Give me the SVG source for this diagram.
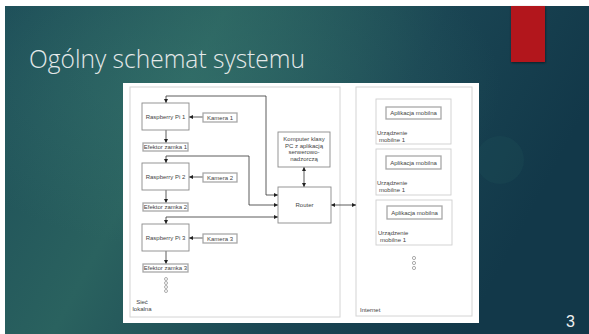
<svg xmlns="http://www.w3.org/2000/svg" width="589" height="334" viewBox="0 0 589 334">
<defs>
<linearGradient id="bg" x1="0" y1="0" x2="1" y2="0.3">
<stop offset="0" stop-color="#1d4d58"/>
<stop offset="0.35" stop-color="#2a625f"/>
<stop offset="0.7" stop-color="#1a4553"/>
<stop offset="1" stop-color="#123849"/>
</linearGradient>
<radialGradient id="hl" cx="0.35" cy="0.25" r="0.5">
<stop offset="0" stop-color="#3a7a72" stop-opacity="0.45"/>
<stop offset="1" stop-color="#3a7a72" stop-opacity="0"/>
</radialGradient>
<marker id="ah" viewBox="0 0 6 6" refX="6" refY="3" markerWidth="4" markerHeight="4" markerUnits="userSpaceOnUse" orient="auto-start-reverse">
<path d="M0,0 L6,3 L0,6 z" fill="#222"/>
</marker>
<filter id="sh" x="-20%" y="-20%" width="150%" height="150%">
<feDropShadow dx="0.5" dy="1" stdDeviation="1" flood-color="#000" flood-opacity="0.5"/>
</filter>
</defs>
<style>
.box{fill:#fff;stroke:#8a8a8a;stroke-width:0.9}
.sbox{fill:#fff;stroke:#a8a8a8;stroke-width:1.3}
.cont{fill:#fff;stroke:#d4d4d4;stroke-width:1}
.dev{fill:#fff;stroke:#cfcfcf;stroke-width:0.9}
.t{font-family:"Liberation Sans",Arial,sans-serif;font-size:6px;fill:#444;text-anchor:middle}
.tl{font-family:"Liberation Sans",Arial,sans-serif;font-size:6px;fill:#444}
.c{fill:none;stroke:#333;stroke-width:0.8}
.dot{fill:none;stroke:#777;stroke-width:0.6}
</style>
<rect x="0" y="0" width="589" height="334" fill="#fff"/>
<rect x="5" y="6" width="584" height="328" fill="url(#bg)"/>
<rect x="5" y="6" width="584" height="328" fill="url(#hl)"/>
<circle cx="500" cy="160" r="24" fill="#2a6464" opacity="0.15"/>
<rect x="511" y="6" width="34" height="56" fill="#b2171a" filter="url(#sh)"/>
<text x="29" y="68" font-family="'Open Sans','Liberation Sans',sans-serif" font-weight="300" font-size="26" fill="#e4e9e9" textLength="276" lengthAdjust="spacingAndGlyphs">Ogólny schemat systemu</text>
<text x="566" y="327" font-family="'Liberation Sans',Arial,sans-serif" font-size="16" fill="#f0f0f0">3</text>
<rect x="123" y="83" width="356" height="240" fill="#fff"/>
<g id="lan">
<rect class="cont" x="130" y="87" width="210" height="230"/>
<text class="t" x="142" y="304">Sieć</text>
<text class="t" x="142" y="311">lokalna</text>
<circle class="dot" cx="166" cy="279" r="1.5"/>
<circle class="dot" cx="166" cy="283" r="1.5"/>
<circle class="dot" cx="166" cy="287" r="1.5"/>
<circle class="dot" cx="166" cy="291" r="1.5"/>
</g>
<g id="internet">
<rect class="cont" x="356" y="87" width="116" height="229"/>
<text class="tl" x="360" y="312">Internet</text>
<circle class="dot" cx="414" cy="258" r="1.6"/>
<circle class="dot" cx="414" cy="263" r="1.6"/>
<circle class="dot" cx="414" cy="268" r="1.6"/>
</g>
<g id="connectors">
<path class="c" d="M166,103 V96 H266 V195 H278" marker-start="url(#ah)" marker-end="url(#ah)"/>
<path class="c" d="M166,163 V156 H249 V205 H278" marker-start="url(#ah)" marker-end="url(#ah)"/>
<path class="c" d="M166,224 V217 H278" marker-start="url(#ah)" marker-end="url(#ah)"/>
<path class="c" d="M304,167 V187" marker-start="url(#ah)" marker-end="url(#ah)"/>
<path class="c" d="M331,205 H356" marker-start="url(#ah)" marker-end="url(#ah)"/>
<path class="c" d="M203,117 H189" marker-end="url(#ah)"/>
<path class="c" d="M203,177 H189" marker-end="url(#ah)"/>
<path class="c" d="M203,238 H189" marker-end="url(#ah)"/>
<path class="c" d="M166,130 V143" marker-end="url(#ah)"/>
<path class="c" d="M166,190 V203" marker-end="url(#ah)"/>
<path class="c" d="M166,251 V264" marker-end="url(#ah)"/>
</g>
<g id="rpi1"><rect class="box" x="142" y="103" width="47" height="27"/><text class="t" x="165.5" y="119">Raspberry Pi 1</text></g>
<g id="kamera1"><rect class="sbox" x="203" y="113" width="34" height="9"/><text class="t" x="220" y="119.5">Kamera 1</text></g>
<g id="efektor1"><rect class="sbox" x="143" y="143" width="45" height="8"/><text class="t" x="165.5" y="149">Efektor zamka 1</text></g>
<g id="rpi2"><rect class="box" x="142" y="163" width="47" height="27"/><text class="t" x="165.5" y="179">Raspberry Pi 2</text></g>
<g id="kamera2"><rect class="sbox" x="203" y="173" width="34" height="9"/><text class="t" x="220" y="179.5">Kamera 2</text></g>
<g id="efektor2"><rect class="sbox" x="143" y="203" width="45" height="8"/><text class="t" x="165.5" y="209">Efektor zamka 2</text></g>
<g id="rpi3"><rect class="box" x="142" y="224" width="47" height="27"/><text class="t" x="165.5" y="240">Raspberry Pi 3</text></g>
<g id="kamera3"><rect class="sbox" x="203" y="234" width="34" height="9"/><text class="t" x="220" y="240.5">Kamera 3</text></g>
<g id="efektor3"><rect class="sbox" x="143" y="264" width="45" height="8"/><text class="t" x="165.5" y="270">Efektor zamka 3</text></g>
<g id="komputer"><rect class="box" x="278" y="132" width="52" height="35"/>
<text class="t" x="304" y="141">Komputer klasy</text>
<text class="t" x="304" y="147.5">PC z aplikacją</text>
<text class="t" x="304" y="154">serwerowo-</text>
<text class="t" x="304" y="160.5">nadzorczą</text></g>
<g id="router"><rect class="box" x="278" y="187" width="53" height="36"/><text class="t" x="304.5" y="207">Router</text></g>
<g id="urzadzenie1"><rect class="dev" x="376" y="99" width="75" height="45"/>
<rect class="sbox" x="386" y="107" width="55" height="12"/><text class="t" x="413.5" y="115">Aplikacja mobilna</text>
<text class="tl" x="377" y="135">Urządzenie</text><text class="tl" x="379" y="141.5">mobilne 1</text></g>
<g id="urzadzenie2"><rect class="dev" x="376" y="149" width="75" height="46"/>
<rect class="sbox" x="386" y="156" width="55" height="13"/><text class="t" x="413.5" y="164.5">Aplikacja mobilna</text>
<text class="tl" x="377" y="185">Urządzenie</text><text class="tl" x="379" y="191.5">mobilne 1</text></g>
<g id="urzadzenie3"><rect class="dev" x="376" y="200" width="76" height="45"/>
<rect class="sbox" x="387" y="206" width="55" height="13"/><text class="t" x="414.5" y="214.5">Aplikacja mobilna</text>
<text class="tl" x="378" y="235">Urządzenie</text><text class="tl" x="380" y="241.5">mobilne 1</text></g>
</svg>
